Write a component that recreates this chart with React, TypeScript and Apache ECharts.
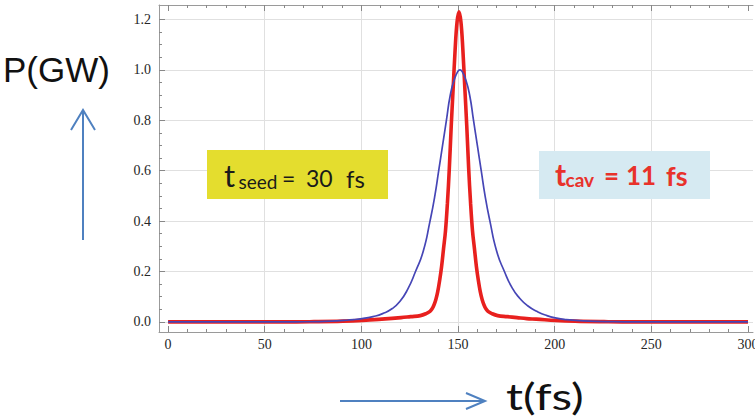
import React, { useEffect, useRef } from 'react';
import * as echarts from 'echarts';

// ---- data ----
// Seed pulse (blue), t in fs, P in GW
const seedTime = [0, 50, 66, 81, 91, 96, 101, 106, 111, 116, 120, 124, 128, 132, 135.5, 138, 140, 142, 144, 146, 148, 150, 151, 152, 154, 156, 158, 160, 162, 164, 166.5, 170, 174, 178, 182, 186, 191, 196, 201, 206, 211, 221, 236, 250, 300];
const seedPower = [0, 0, 0.0005, 0.002, 0.006, 0.009, 0.014, 0.021, 0.033, 0.053, 0.082, 0.13, 0.2, 0.28, 0.4, 0.5, 0.6, 0.7, 0.8, 0.9, 0.96, 0.995, 1.0, 0.995, 0.96, 0.9, 0.8, 0.7, 0.6, 0.5, 0.4, 0.28, 0.2, 0.135, 0.093, 0.064, 0.041, 0.025, 0.015, 0.009, 0.006, 0.002, 0.0005, 0, 0];

// Cavity pulse (red)
const cavTime = [0, 60.5, 75.5, 90.5, 100.5, 110.5, 120.5, 125.5, 130.5, 133.5, 135.5, 136.5, 137.5, 138.5, 139.5, 140.5, 141.5, 142.5, 143.5, 144.5, 145.5, 146.5, 147.5, 148.5, 149.5, 150.5, 151.5, 152.5, 153.5, 154.5, 155.5, 156.5, 157.5, 158.5, 159.5, 160.5, 161.5, 162.5, 163.5, 164.5, 165.5, 167.5, 170.5, 175.5, 180.5, 185.5, 190.5, 200.5, 210.5, 225.5, 240.5, 300];
const cavPower = [0, 0, 0.001, 0.003, 0.006, 0.011, 0.017, 0.021, 0.025, 0.033, 0.042, 0.051, 0.066, 0.088, 0.12, 0.165, 0.22, 0.29, 0.36, 0.47, 0.61, 0.78, 0.93, 1.08, 1.19, 1.23, 1.19, 1.08, 0.93, 0.78, 0.61, 0.47, 0.36, 0.29, 0.22, 0.165, 0.12, 0.088, 0.066, 0.051, 0.042, 0.033, 0.025, 0.021, 0.017, 0.013, 0.011, 0.006, 0.003, 0.001, 0, 0];

// tick values
const xMajorTicks = [0, 50, 100, 150, 200, 250, 300];
const xGridTicks = [50, 100, 150, 200, 250];
const xMinorTicks = [10, 20, 30, 40, 60, 70, 80, 90, 110, 120, 130, 140, 160, 170, 180, 190, 210, 220, 230, 240, 260, 270, 280, 290];
const yMajorTicks = [0, 0.2, 0.4, 0.6, 0.8, 1.0, 1.2];
const yMinorTicks = [0.05, 0.1, 0.15, 0.25, 0.3, 0.35, 0.45, 0.5, 0.55, 0.65, 0.7, 0.75, 0.85, 0.9, 0.95, 1.05, 1.1, 1.15];

// annotation texts
const yTitle = 'P(GW)';
const xTitle = 't(fs)';
const seedLabel = ['t', 'seed', '=', '30', 'fs'];
const cavLabel = ['t', 'cav', '=', '11', 'fs'];

const X_MIN = -4.7;
const X_MAX = 302.6;
const Y_MIN = -0.04;
const Y_MAX = 1.257;

const AXIS = '#9a9a9a';
const TICK = '#888888';
const GRID = '#e0e0e0';
const LABEL = '#262626';
const ARROW = '#4f81c0';

const isMult = (v: number, step: number) => Math.abs(v / step - Math.round(v / step)) < 1e-6;

function xAx(extra: any) {
  return {
    type: 'value',
    min: X_MIN,
    max: X_MAX,
    gridIndex: 0,
    axisLine: { show: false, onZero: false },
    axisTick: { show: false },
    axisLabel: { show: false },
    splitLine: { show: false },
    ...extra,
  };
}
function yAx(extra: any) {
  return {
    type: 'value',
    min: Y_MIN,
    max: Y_MAX,
    gridIndex: 0,
    axisLine: { show: false, onZero: false },
    axisTick: { show: false },
    axisLabel: { show: false },
    splitLine: { show: false },
    ...extra,
  };
}

const labelFont = { fontFamily: 'Liberation Serif', fontSize: 14, color: LABEL };

const txt = (text: string, x: number, y: number, fontSize: number, fill: string, bold = false, family = 'Lato') => ({
  type: 'text',
  x,
  y,
  z: 11,
  style: { text, fontFamily: family, fontWeight: bold ? 'bold' : 'normal', fontSize, fill, align: 'left', verticalAlign: 'middle' },
});

export default function App() {
  const ref = useRef<HTMLDivElement>(null);
  useEffect(() => {
    const chart = echarts.init(ref.current!, null, { renderer: 'svg' });
    const option: any = {
      animation: false,
      backgroundColor: '#ffffff',
      grid: { left: 159, right: 2, top: 5, bottom: 86, containLabel: false, outerBoundsMode: 'none' },
      xAxis: [
        xAx({
          position: 'bottom',
          axisLine: { show: true, onZero: false, lineStyle: { color: AXIS, width: 1 } },
          axisTick: { show: true, inside: true, length: 6, customValues: xMajorTicks, lineStyle: { color: TICK } },
          axisLabel: {
            show: true,
            customValues: xMajorTicks,
            margin: 5,
            ...labelFont,
            formatter: (v: number) => (isMult(v, 50) ? String(Math.round(v)) : ''),
          },
        }),
        xAx({
          position: 'bottom',
          axisTick: { show: true, inside: true, length: 3, customValues: xMinorTicks, lineStyle: { color: TICK } },
        }),
        xAx({
          position: 'bottom',
          axisTick: { show: false, customValues: xGridTicks },
          splitLine: { show: true, lineStyle: { color: GRID, width: 1 } },
        }),
        xAx({
          position: 'top',
          axisLine: { show: true, onZero: false, lineStyle: { color: AXIS, width: 1 } },
          axisTick: { show: true, inside: true, length: 6, customValues: xMajorTicks, lineStyle: { color: TICK } },
        }),
        xAx({
          position: 'top',
          axisTick: { show: true, inside: true, length: 3, customValues: xMinorTicks, lineStyle: { color: TICK } },
        }),
      ],
      yAxis: [
        yAx({
          position: 'left',
          axisLine: { show: true, onZero: false, lineStyle: { color: AXIS, width: 1 } },
          axisTick: { show: true, inside: true, length: 6, customValues: yMajorTicks, lineStyle: { color: TICK } },
          axisLabel: {
            show: true,
            customValues: yMajorTicks,
            margin: 8,
            ...labelFont,
            formatter: (v: number) => (isMult(v, 0.2) && v > -0.001 ? v.toFixed(1) : ''),
          },
          splitLine: { show: true, lineStyle: { color: GRID, width: 1 } },
        }),
        yAx({
          position: 'left',
          axisTick: { show: true, inside: true, length: 3, customValues: yMinorTicks, lineStyle: { color: TICK } },
        }),
      ],
      series: [
        {
          name: 'cavity',
          type: 'line',
          xAxisIndex: 0,
          yAxisIndex: 0,
          data: cavTime.map((t, i) => [t, cavPower[i]]),
          showSymbol: false,
          smooth: 0.4,
          lineStyle: { color: '#e8201e', width: 3.6 },
          z: 3,
        },
        {
          name: 'seed',
          type: 'line',
          xAxisIndex: 0,
          yAxisIndex: 0,
          data: seedTime.map((t, i) => [t, seedPower[i]]),
          showSymbol: false,
          smooth: 0.55,
          lineStyle: { color: '#4646b6', width: 1.7 },
          z: 4,
        },
      ],
      graphic: [
        {
          type: 'text', x: 3, y: 69,
          style: { text: yTitle, fontFamily: 'Liberation Sans', fontSize: 35, fill: '#111', align: 'left', verticalAlign: 'middle' },
        },
        { type: 'line', shape: { x1: 83, y1: 240, x2: 83, y2: 111 }, style: { stroke: ARROW, lineWidth: 2 } },
        { type: 'polyline', shape: { points: [[71, 130], [83, 110], [95, 130]] }, style: { stroke: ARROW, lineWidth: 2, fill: null } },
        { type: 'line', shape: { x1: 340, y1: 401, x2: 484, y2: 401 }, style: { stroke: ARROW, lineWidth: 2 } },
        { type: 'polyline', shape: { points: [[466, 393], [485, 401], [466, 409]] }, style: { stroke: ARROW, lineWidth: 2, fill: null } },
        {
          type: 'text', x: 506, y: 396, scaleX: 1.32,
          style: { text: xTitle, fontFamily: 'Lato', fontSize: 36, fill: '#111', align: 'left', verticalAlign: 'middle' },
        },
        // yellow box
        { type: 'rect', shape: { x: 207, y: 150, width: 181, height: 49 }, style: { fill: '#e4dd2e' }, z: 10 },
        txt(seedLabel[0], 224, 175, 31, '#1a1a1a'),
        txt(seedLabel[1], 238.5, 181.6, 19, '#1a1a1a'),
        txt(seedLabel[2], 282, 178.1, 23, '#1a1a1a'),
        txt(seedLabel[3], 306, 178.1, 23, '#1a1a1a'),
        txt(seedLabel[4], 346, 178.1, 24, '#1a1a1a'),
        // blue box
        { type: 'rect', shape: { x: 539, y: 151, width: 171, height: 48 }, style: { fill: '#d6eaf2' }, z: 10 },
        txt(cavLabel[0], 555, 173.9, 30, '#e8322b', true),
        txt(cavLabel[1], 565.5, 179.3, 19, '#e8322b', true),
        txt(cavLabel[2], 604, 175, 26, '#e8322b', true),
        txt(cavLabel[3], 626, 175, 26, '#e8322b', true),
        txt(cavLabel[4], 666, 175, 27, '#e8322b', true),
      ],
    };
    chart.setOption(option);
    return () => chart.dispose();
  }, []);
  return (
    <div
      ref={ref}
      style={{ position: 'fixed', left: 0, top: 0, width: 755, height: 418, background: '#fff' }}
    />
  );
}
